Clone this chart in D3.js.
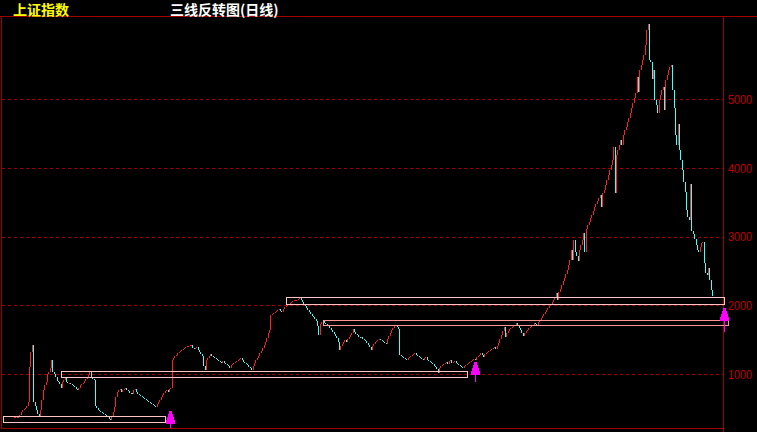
<!DOCTYPE html>
<html><head><meta charset="utf-8">
<script src="https://cdn.jsdelivr.net/npm/d3@7/dist/d3.min.js"></script>
<style>html,body{margin:0;padding:0;background:#000;overflow:hidden}</style>
</head><body><svg id="c" width="757" height="432"></svg>
<script>
// ---- data ----
const titleLeft = "上证指数";
const titleMain = "三线反转图(日线)";
const startOpen = 362;
const closes = [
378,380,383,385,407,450,480,495,510,545,
596,1105,1324,1425,596,545,480,420,378,480,
625,771,843,887,1004,1033,1090,1207,1033,1004,
960,902,887,858,800,887,916,945,887,872,
878,858,843,829,814,785,771,800,843,858,
872,902,931,960,989,1033,960,931,916,538,
509,480,465,451,436,422,407,393,378,349,
335,378,451,524,669,742,771,785,742,771,
785,800,771,756,727,720,713,771,785,742,
713,698,684,669,655,640,625,611,596,582,
567,553,545,524,567,596,625,669,698,727,
756,771,742,785,800,1207,1236,1265,1280,1309,
1324,1338,1353,1367,1382,1396,1411,1418,1425,1432,
1382,1367,1382,1396,1353,1324,1294,1265,1120,1062,
1207,1236,1265,1294,1265,1251,1236,1222,1207,1193,
1178,1164,1193,1164,1149,1135,1120,1091,1135,1149,
1164,1178,1193,1207,1222,1236,1207,1178,1164,1149,
1135,1106,1091,1062,1120,1164,1207,1236,1265,1309,
1338,1382,1425,1469,1527,1600,1644,1862,1876,1891,
1905,1920,1935,1949,1920,1905,1949,1978,1993,2007,
2022,2036,2051,2065,2073,2080,2087,2094,2109,2080,
2051,2022,1993,1964,1935,1905,1876,1847,1833,1804,
1775,1702,1571,1731,1760,1775,1746,1731,1716,1702,
1673,1644,1615,1585,1556,1527,1469,1353,1411,1440,
1469,1498,1469,1513,1542,1571,1600,1658,1615,1585,
1571,1542,1527,1542,1513,1498,1484,1455,1425,1396,
1353,1411,1440,1469,1484,1498,1513,1498,1484,1469,
1455,1440,1513,1556,1600,1644,1673,1702,1716,1687,
1658,1280,1265,1251,1236,1222,1207,1236,1251,1265,
1280,1294,1309,1280,1265,1251,1236,1222,1207,1236,
1251,1207,1193,1178,1164,1149,1120,1106,1077,1018,
1091,1120,1135,1149,1164,1178,1149,1193,1207,1164,
1178,1193,1164,1149,1135,1120,1106,1091,1120,1135,
1149,1164,1178,1193,1207,1222,1207,1251,1265,1280,
1309,1280,1251,1294,1309,1324,1338,1353,1367,1382,
1396,1367,1411,1455,1513,1571,1629,1687,1542,1600,
1629,1658,1673,1687,1702,1716,1746,1702,1673,1644,
1600,1556,1600,1629,1644,1673,1687,1702,1716,1746,
1731,1716,1760,1789,1818,1847,1876,1905,1935,1964,
1993,2022,2051,2080,2109,2182,2080,2196,2240,2298,
2356,2400,2458,2516,2589,2662,2807,2662,2953,2778,
2720,2647,2807,2880,2953,3055,2778,3113,3171,3215,
3273,3316,3375,3433,3476,3520,3564,3607,3433,3636,
3680,3753,3825,3898,3971,4044,4116,4305,3636,4189,
4262,4334,4407,4334,4480,4553,4596,4669,4727,4800,
4873,4945,5018,5091,5323,5105,5425,5498,5571,5644,
5789,6007,6092,5571,5542,5294,5425,4989,4916,4800,
4989,5062,5134,5178,4844,5280,5352,5425,5469,5498,
5134,4873,4480,4334,4640,4262,4116,3971,3796,3651,
3389,3287,3244,3767,3084,3040,2967,2880,2807,2778,
2851,2909,2924,2618,2473,2444,2545,2371,2225,2138
];
const yTicks = [1000, 2000, 3000, 4000, 5000];
const boxStart = [-8, 34, 198, 225];
const boxEnd   = [110, 330, 518, 520.5];
const boxHigh  = [393, 1048, 2124, 1789];
const boxLow   = [305, 960, 2022, 1716];
const boxKind  = [0, 0, 0, 1];
const arrowIdx  = [114, 336, 518];
const arrowTip  = [465, 1178, 1964];
const arrowBase = [218, 892, 1619];

// ---- drawing ----
const W = 757, H = 432;
const plotL = 2, plotR = 723, plotT = 16, plotB = 428;
const svg = d3.select("#c");
svg.append("rect").attr("width", W).attr("height", H).attr("fill", "#000");

const x = d3.scaleLinear().domain([0, closes.length - 1]).range([14, 712]);
const y = d3.scaleLinear().domain([218, 6124]).range([428, 22]);
const px = v => Math.round(v) + 0.5;

const frameC = "#a00000", gridC = "#a00000", labelC = "#c00000";

// grid lines
const grid = d3.axisRight(y).tickValues(yTicks).tickSize(plotR - plotL).tickFormat("");
const gg = svg.append("g").attr("transform", `translate(${plotL},0)`).call(grid);
gg.select(".domain").remove();
gg.selectAll(".tick line").attr("stroke", gridC).attr("stroke-dasharray", "3,3")
  .attr("shape-rendering", "crispEdges");
gg.selectAll(".tick").attr("transform", d => `translate(0,${px(y(d))})`);

// axis labels
const ax = d3.axisRight(y).tickValues(yTicks).tickSize(0).tickPadding(5).tickFormat(d3.format("d"));
const ag = svg.append("g").attr("transform", `translate(${plotR},0)`).call(ax);
ag.select(".domain").remove();
ag.selectAll(".tick text").attr("fill", labelC).attr("font-family", "Liberation Sans, Arial, sans-serif")
  .attr("font-size", 13).attr("textLength", 24).attr("lengthAdjust", "spacingAndGlyphs");

// frame
const fr = svg.append("g").attr("stroke", frameC).attr("shape-rendering", "crispEdges");
fr.append("line").attr("x1", 0).attr("x2", W).attr("y1", plotT + 0.5).attr("y2", plotT + 0.5);
fr.append("line").attr("x1", plotL - 1).attr("x2", plotR).attr("y1", plotB + 0.5).attr("y2", plotB + 0.5);
fr.append("line").attr("x1", plotL - 0.5).attr("x2", plotL - 0.5).attr("y1", plotT).attr("y2", plotB + 1);
fr.append("line").attr("x1", plotR + 0.5).attr("x2", plotR + 0.5).attr("y1", plotT).attr("y2", H);

// bricks: 1px vertical bars from previous close to this close
const bricks = closes.map((c, i) => ({ i, o: i === 0 ? startOpen : closes[i - 1], c }));
svg.append("g").attr("shape-rendering", "crispEdges").selectAll("rect").data(bricks).join("rect")
  .attr("x", d => Math.round(x(d.i)))
  .attr("width", 1)
  .attr("y", d => Math.round(y(Math.max(d.o, d.c))))
  .attr("height", d => Math.max(1, Math.round(y(Math.min(d.o, d.c))) - Math.round(y(Math.max(d.o, d.c)))))
  .attr("fill", d => d.c >= d.o ? "#ff2020" : "#40ffff");

// boxes
const boxes = boxStart.map((s, k) => ({ s, e: boxEnd[k], hi: boxHigh[k], lo: boxLow[k], kind: boxKind[k] }));
svg.append("g").selectAll("rect").data(boxes).join("rect")
  .attr("x", d => px(x(d.s))).attr("y", d => px(y(d.hi)))
  .attr("width", d => Math.round(x(d.e)) - Math.round(x(d.s)))
  .attr("height", d => Math.round(y(d.lo)) - Math.round(y(d.hi)))
  .attr("fill", "none").attr("stroke", d => d.kind ? "#ff9696" : "#ffc4c4")
  .attr("shape-rendering", "crispEdges");

// arrows
const arrows = arrowIdx.map((a, k) => ({ a, tip: arrowTip[k], base: arrowBase[k] }));
const ag2 = svg.append("g").attr("shape-rendering", "crispEdges");
arrows.forEach(d => {
  const cx = Math.round(x(d.a)), ty = Math.round(y(d.tip)), by = Math.round(y(d.base));
  const steps = [[1, 3], [2, 3], [3, 3], [4, 4]];
  let yy = ty;
  const right = [], left = [];
  steps.forEach(([hw, h]) => {
    right.push([cx + hw + 1, yy], [cx + hw + 1, yy + h]);
    left.unshift([cx - hw, yy + h], [cx - hw, yy]);
    yy += h;
  });
  const poly = [[cx, ty], [cx + 1, ty], ...right, ...left];
  ag2.append("polygon").attr("points", poly.map(p => p.join(",")).join(" ")).attr("fill", "#ff00ff");
  ag2.append("rect").attr("x", cx).attr("y", yy).attr("width", 1).attr("height", Math.max(0, by - yy)).attr("fill", "#ff00ff");
});

// titles
svg.append("text").attr("x", 13).attr("y", 15).text(titleLeft)
  .attr("fill", "#ffff00").attr("font-family", "Noto Sans CJK SC").attr("font-weight", "bold").attr("font-size", 14);
svg.append("text").attr("x", 170).attr("y", 15).text(titleMain)
  .attr("fill", "#ffffff").attr("font-family", "Noto Sans CJK SC").attr("font-weight", "bold").attr("font-size", 14);
</script></body></html>
